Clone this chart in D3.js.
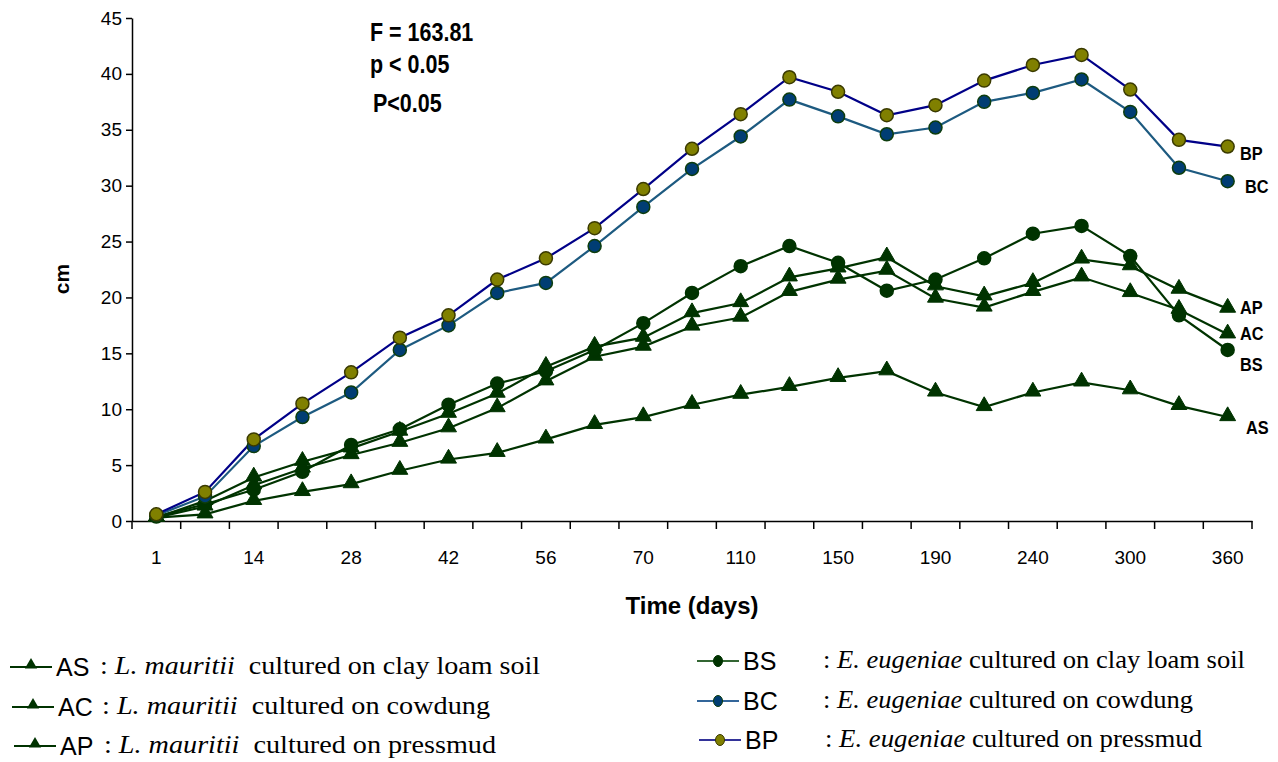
<!DOCTYPE html>
<html>
<head>
<meta charset="utf-8">
<script src="https://cdn.jsdelivr.net/npm/d3@7/dist/d3.min.js"></script>
<style>
  body { margin: 0; background: #fff; }
  svg { display: block; }
  .tick text { font-family: "Liberation Sans", Arial, sans-serif; font-size: 19px; fill: #000; }
</style>
</head>
<body>
<svg></svg>
<script>
// days sampled (only every other one is labelled on the axis)
var days = ["1","7","14","21","28","35","42","49","56","63","70","90","110","130","150","170","190","215","240","270","300","330","360"];
var tickLabels = ["1","14","28","42","56","70","110","150","190","240","300","360"];
var yTicks = [0,5,10,15,20,25,30,35,40,45];

// length (cm) for each series
var AS = [0.3,0.6,1.8,2.6,3.3,4.5,5.5,6.1,7.3,8.6,9.3,10.4,11.3,12.0,12.8,13.4,11.5,10.2,11.5,12.4,11.7,10.3,9.3];
var AC = [0.3,1.3,3.2,4.7,5.9,7.0,8.3,10.1,12.5,14.7,15.6,17.4,18.2,20.5,21.6,22.4,19.9,19.1,20.5,21.8,20.4,18.9,16.7];
var AP = [0.3,1.8,3.9,5.3,6.5,8.0,9.6,11.4,13.8,15.6,16.4,18.6,19.5,21.8,22.6,23.6,21.0,20.1,21.3,23.4,22.8,20.7,19.0];
var BS = [0.4,1.5,2.8,4.4,6.8,8.2,10.4,12.3,13.4,15.3,17.7,20.4,22.8,24.6,23.1,20.6,21.6,23.5,25.7,26.4,23.7,18.4,15.3];
var BC = [0.5,2.2,6.7,9.3,11.5,15.3,17.5,20.4,21.3,24.6,28.1,31.5,34.4,37.7,36.2,34.6,35.2,37.5,38.3,39.5,36.6,31.6,30.4];
var BP = [0.6,2.6,7.3,10.5,13.3,16.4,18.4,21.6,23.5,26.2,29.7,33.3,36.4,39.7,38.4,36.3,37.2,39.4,40.8,41.7,38.6,34.1,33.5];

var width = 1278, height = 762;
var svg = d3.select('svg').attr('width', width).attr('height', height);

var x = d3.scaleBand().domain(days).range([132, 1252]).padding(0);
var y = d3.scaleLinear().domain([0, 45]).range([521, 18]);
var cx = d => x(d) + x.bandwidth() / 2;

var green = "#003300";
var series = [
  {name: "AS", data: AS, line: green, fill: green, stroke: green, shape: "tri", lx: 1246, ly: 427},
  {name: "AC", data: AC, line: green, fill: green, stroke: green, shape: "tri", lx: 1240, ly: 333},
  {name: "AP", data: AP, line: green, fill: green, stroke: green, shape: "tri", lx: 1240, ly: 307},
  {name: "BS", data: BS, line: green, fill: green, stroke: green, shape: "circle", lx: 1240, ly: 364},
  {name: "BC", data: BC, line: "#1d5a80", fill: "#003d73", stroke: "#0d3d0d", shape: "circle", lx: 1245, ly: 186},
  {name: "BP", data: BP, line: "#000088", fill: "#808000", stroke: "#3a3a00", shape: "circle", lx: 1240, ly: 153}
];

var tri = d3.symbol().type(d3.symbolTriangle).size(110);
var narrow = "'Liberation Sans Narrow', 'Liberation Sans', Arial, sans-serif";

// axes
var yAxis = svg.append("g").attr("transform", "translate(132,0)")
  .call(d3.axisLeft(y).tickValues(yTicks).tickSize(6).tickSizeOuter(0).tickPadding(4));
yAxis.select(".domain").attr("stroke", "#000").attr("stroke-width", 1.5);
yAxis.selectAll(".tick line").attr("stroke", "#000").attr("stroke-width", 1.5);

var xAxis = svg.append("g").attr("transform", "translate(0,521)")
  .call(d3.axisBottom(x).tickSize(0).tickPadding(30).tickFormat(d => tickLabels.indexOf(d) >= 0 ? d : ""));
xAxis.select(".domain").attr("stroke", "#000").attr("stroke-width", 1.5);
xAxis.selectAll(".boundary")
  .data(days.concat(["end"]))
  .enter().append("line")
  .attr("x1", (d, i) => i < days.length ? x(d) : x.range()[1])
  .attr("x2", (d, i) => i < days.length ? x(d) : x.range()[1])
  .attr("y1", 0).attr("y2", 8)
  .attr("stroke", "#000").attr("stroke-width", 1.5);

// axis titles
svg.append("text").attr("x", 692).attr("y", 614).attr("text-anchor", "middle")
  .style("font-family", "'Liberation Sans', Arial, sans-serif").style("font-weight", "bold").style("font-size", "24px")
  .text("Time (days)");
svg.append("text").attr("transform", "translate(69,279) rotate(-90)").attr("text-anchor", "middle")
  .style("font-family", "'Liberation Sans', Arial, sans-serif").style("font-weight", "bold").style("font-size", "21px")
  .text("cm");

// stats note (condensed bold)
var note = [["F = 163.81", 370, 41], ["p < 0.05", 370, 73], ["P<0.05", 373, 112]];
svg.selectAll(".note").data(note).enter().append("text")
  .attr("transform", d => "translate(" + d[1] + "," + d[2] + ") scale(0.86,1)")
  .style("font-family", narrow)
  .style("font-weight", "bold").style("font-size", "25px")
  .text(d => d[0]);

// lines and markers
var line = d3.line().x((d, i) => cx(days[i])).y(d => y(d));
series.forEach(function(s) {
  svg.append("path").datum(s.data).attr("d", line)
    .attr("fill", "none").attr("stroke", s.line).attr("stroke-width", 2.2);
});
series.forEach(function(s) {
  var g = svg.append("g");
  if (s.shape === "tri") {
    g.selectAll("path").data(s.data).enter().append("path")
      .attr("d", tri)
      .attr("transform", (d, i) => "translate(" + cx(days[i]) + "," + (y(d) - 1) + ")")
      .attr("fill", s.fill).attr("stroke", s.stroke).attr("stroke-width", 1);
  } else {
    g.selectAll("circle").data(s.data).enter().append("circle")
      .attr("cx", (d, i) => cx(days[i])).attr("cy", d => y(d)).attr("r", 6.5)
      .attr("fill", s.fill).attr("stroke", s.stroke).attr("stroke-width", 1.5);
  }
  svg.append("text").attr("transform", "translate(" + s.lx + "," + (s.ly + 7) + ") scale(0.86,1)")
    .style("font-family", narrow)
    .style("font-weight", "bold").style("font-size", "19px")
    .text(s.name);
});

// legend
var legendRows = [
  {s: series[0], x0: 10, y0: 667, sp: "L. mauritii", rest: "  cultured on clay loam soil", w: 440},
  {s: series[1], x0: 12, y0: 707, sp: "L. mauritii", rest: "  cultured on cowdung", w: 388},
  {s: series[2], x0: 14, y0: 746, sp: "L. mauritii", rest: "  cultured on pressmud", w: 392},
  {s: series[3], x0: 697, y0: 661, sp: "E. eugeniae", rest: " cultured on clay loam soil", w: 422},
  {s: series[4], x0: 697, y0: 701, sp: "E. eugeniae", rest: " cultured on cowdung", w: 370},
  {s: series[5], x0: 699, y0: 740, sp: "E. eugeniae", rest: " cultured on pressmud", w: 377}
];
legendRows.forEach(function(r) {
  var g = svg.append("g").attr("transform", "translate(" + r.x0 + "," + r.y0 + ")");
  var lc = r.s.shape === "tri" ? green : (r.s.name === "BS" ? "#336633" : r.s.name === "BC" ? "#33669a" : "#333399");
  g.append("line").attr("x1", 0).attr("x2", 42).attr("y1", 0).attr("y2", 0)
    .attr("stroke", lc).attr("stroke-width", 2);
  if (r.s.shape === "tri") {
    g.append("path").attr("d", d3.symbol().type(d3.symbolTriangle).size(65)).attr("transform", "translate(21,-2)")
      .attr("fill", green);
  } else {
    g.append("ellipse").attr("cx", 21).attr("cy", 0).attr("rx", 4.5).attr("ry", 5.5)
      .attr("fill", r.s.fill).attr("stroke", r.s.stroke).attr("stroke-width", 1);
  }
  g.append("text").attr("x", 46).attr("y", 9)
    .style("font-family", "'Liberation Sans', Arial, sans-serif").style("font-size", "25px")
    .text(r.s.name);
  var t = g.append("text").attr("x", r.s.shape === "tri" ? 90 : 126).attr("y", 7)
    .attr("textLength", r.w).attr("lengthAdjust", "spacingAndGlyphs")
    .style("font-family", "'Liberation Serif', 'Times New Roman', serif").style("font-size", "25px")
    .attr("xml:space", "preserve").style("white-space", "pre");
  t.append("tspan").text(": ");
  t.append("tspan").style("font-style", "italic").text(r.sp);
  t.append("tspan").text(r.rest);
});
</script>
</body>
</html>
